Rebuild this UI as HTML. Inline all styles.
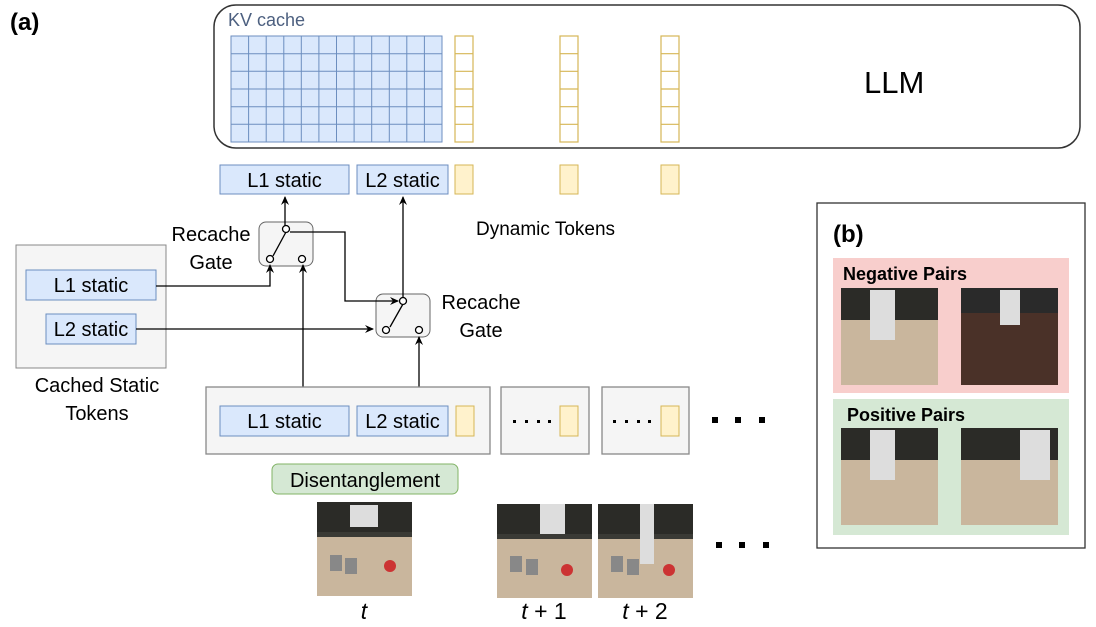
<!DOCTYPE html>
<html><head><meta charset="utf-8"><style>
html,body{margin:0;padding:0;background:#fff;}
svg{display:block;}
text{font-family:"Liberation Sans",sans-serif;}
</style></head><body>
<svg width="1096" height="627" viewBox="0 0 1096 627" xmlns="http://www.w3.org/2000/svg">
<defs>
<marker id="ar" markerWidth="10" markerHeight="10" refX="8" refY="5" orient="auto" markerUnits="userSpaceOnUse">
<path d="M0,1 L9,5 L0,9 L3,5 Z" fill="#000"/></marker>
<g id="photo">
<rect x="0" y="0" width="95" height="94" fill="#c9b69d"/>
<rect x="0" y="0" width="95" height="34" fill="#2b2b27"/>
<rect x="0" y="30" width="95" height="5" fill="#3a3a35"/>
</g>
</defs>
<text x="10" y="30" font-size="24" font-weight="bold">(a)</text>
<rect x="214" y="5" width="866" height="143" rx="22" fill="#fff" stroke="#333" stroke-width="1.5"/>
<text x="228" y="26" font-size="18" fill="#4d6080">KV cache</text>
<text x="864" y="93" font-size="31" fill="#000" font-family="DejaVu Sans, sans-serif">LLM</text>
<rect x="231" y="36" width="211" height="106" fill="#dae8fc" stroke="#6c8ebf"/>
<g stroke="#6c8ebf" stroke-width="1">
<path d="M248.6 36V142M266.2 36V142M283.8 36V142M301.3 36V142M318.9 36V142M336.5 36V142M354.1 36V142M371.7 36V142M389.3 36V142M406.8 36V142M424.4 36V142"/>
<path d="M231 53.7H442M231 71.3H442M231 89H442M231 106.7H442M231 124.3H442"/>
</g>
<g fill="none" stroke="#d6b656" stroke-width="1.2">
<rect x="455" y="36" width="18" height="106"/><path d="M455 53.7H473M455 71.3H473M455 89H473M455 106.7H473M455 124.3H473"/>
<rect x="560" y="36" width="18" height="106"/><path d="M560 53.7H578M560 71.3H578M560 89H578M560 106.7H578M560 124.3H578"/>
<rect x="661" y="36" width="18" height="106"/><path d="M661 53.7H679M661 71.3H679M661 89H679M661 106.7H679M661 124.3H679"/>
</g>
<rect x="220" y="165" width="129" height="29" fill="#dae8fc" stroke="#6c8ebf"/>
<text x="284.5" y="187" font-size="20" text-anchor="middle">L1 static</text>
<rect x="357" y="165" width="91" height="29" fill="#dae8fc" stroke="#6c8ebf"/>
<text x="402.5" y="187" font-size="20" text-anchor="middle">L2 static</text>
<g fill="#fff2cc" stroke="#d6b656">
<rect x="455" y="165" width="18" height="29"/><rect x="560" y="165" width="18" height="29"/><rect x="661" y="165" width="18" height="29"/>
</g>
<text x="476" y="235" font-size="19">Dynamic Tokens</text>
<rect x="16" y="245" width="150" height="123" fill="#f5f5f5" stroke="#888"/>
<rect x="26" y="270" width="130" height="30" fill="#dae8fc" stroke="#6c8ebf"/>
<text x="91" y="292" font-size="20" text-anchor="middle">L1 static</text>
<rect x="46" y="314" width="90" height="30" fill="#dae8fc" stroke="#6c8ebf"/>
<text x="91" y="336" font-size="20" text-anchor="middle">L2 static</text>
<text x="97" y="392" font-size="20" text-anchor="middle">Cached Static</text>
<text x="97" y="420" font-size="20" text-anchor="middle">Tokens</text>
<rect x="259" y="222" width="54" height="44" rx="7" fill="#f5f5f5" stroke="#666"/>
<rect x="376" y="294" width="54" height="43" rx="7" fill="#f5f5f5" stroke="#666"/>
<text x="211" y="241" font-size="20" text-anchor="middle">Recache</text>
<text x="211" y="269" font-size="20" text-anchor="middle">Gate</text>
<text x="481" y="309" font-size="20" text-anchor="middle">Recache</text>
<text x="481" y="337" font-size="20" text-anchor="middle">Gate</text>
<g stroke="#000" stroke-width="1.3" fill="none">
<path d="M285 226V197" marker-end="url(#ar)"/>
<path d="M403 297V197" marker-end="url(#ar)"/>
<path d="M156 286H270V265" marker-end="url(#ar)"/>
<path d="M136 329H373" marker-end="url(#ar)"/>
<path d="M290 232H345V301H398" marker-end="url(#ar)"/>
<path d="M303 387V265" marker-end="url(#ar)"/>
<path d="M419 387V337" marker-end="url(#ar)"/>
<path d="M273 256L286 232M390 327L403 304"/>
</g>
<g fill="#fff" stroke="#000" stroke-width="1.3">
<circle cx="286" cy="229" r="3.5"/><circle cx="270" cy="259" r="3.5"/><circle cx="302" cy="259" r="3.5"/>
<circle cx="403" cy="301" r="3.5"/><circle cx="386" cy="330" r="3.5"/><circle cx="419" cy="330" r="3.5"/>
</g>
<rect x="206" y="387" width="284" height="67" fill="#f5f5f5" stroke="#888" stroke-width="1.3"/>
<rect x="220" y="406" width="129" height="30" fill="#dae8fc" stroke="#6c8ebf"/>
<text x="284.5" y="428" font-size="20" text-anchor="middle">L1 static</text>
<rect x="357" y="406" width="91" height="30" fill="#dae8fc" stroke="#6c8ebf"/>
<text x="402.5" y="428" font-size="20" text-anchor="middle">L2 static</text>
<rect x="456" y="406" width="18" height="30" fill="#fff2cc" stroke="#d6b656"/>
<rect x="501" y="387" width="88" height="67" fill="#f5f5f5" stroke="#888" stroke-width="1.3"/>
<rect x="602" y="387" width="87" height="67" fill="#f5f5f5" stroke="#888" stroke-width="1.3"/>
<rect x="560" y="406" width="18" height="30" fill="#fff2cc" stroke="#d6b656"/>
<rect x="661" y="406" width="18" height="30" fill="#fff2cc" stroke="#d6b656"/>
<g fill="#000">
<rect x="513" y="420" width="3" height="3"/><rect x="525" y="420" width="3" height="3"/><rect x="537" y="420" width="3" height="3"/><rect x="548" y="420" width="3" height="3"/>
<rect x="613" y="420" width="3" height="3"/><rect x="625" y="420" width="3" height="3"/><rect x="637" y="420" width="3" height="3"/><rect x="648" y="420" width="3" height="3"/>
<rect x="712" y="417" width="6" height="6"/><rect x="735" y="417" width="6" height="6"/><rect x="759" y="417" width="6" height="6"/>
<rect x="716" y="542" width="6" height="6"/><rect x="739" y="542" width="6" height="6"/><rect x="763" y="542" width="6" height="6"/>
</g>
<rect x="272" y="464" width="186" height="30" rx="6" fill="#d5e8d4" stroke="#82b366"/>
<text x="365" y="487" font-size="20" text-anchor="middle">Disentanglement</text>
<use href="#photo" x="317" y="502"/>
<use href="#photo" x="497" y="504"/>
<use href="#photo" x="598" y="504"/>
<g fill="#ddd"><rect x="350" y="505" width="28" height="22"/><rect x="540" y="504" width="25" height="30"/><rect x="640" y="504" width="14" height="60"/></g>
<g fill="#888"><rect x="330" y="555" width="12" height="16"/><rect x="345" y="558" width="12" height="16"/><rect x="510" y="556" width="12" height="16"/><rect x="526" y="559" width="12" height="16"/><rect x="611" y="556" width="12" height="16"/><rect x="627" y="559" width="12" height="16"/></g>
<g fill="#c33"><circle cx="390" cy="566" r="6"/><circle cx="567" cy="570" r="6"/><circle cx="669" cy="570" r="6"/></g>
<g font-family="Liberation Serif, serif" font-size="23" text-anchor="middle">
<text x="364" y="619" font-style="italic">t</text>
<text x="544" y="619"><tspan font-style="italic">t</tspan> + 1</text>
<text x="645" y="619"><tspan font-style="italic">t</tspan> + 2</text>
</g>
<rect x="817" y="203" width="268" height="345" fill="#fff" stroke="#333" stroke-width="1.3"/>
<text x="833" y="242" font-size="24" font-weight="bold">(b)</text>
<rect x="833" y="258" width="236" height="135" fill="#f8cecc"/>
<text x="843" y="280" font-size="18" font-weight="bold">Negative Pairs</text>
<rect x="833" y="399" width="236" height="136" fill="#d5e8d4"/>
<text x="847" y="421" font-size="18" font-weight="bold">Positive Pairs</text>
<g>
<rect x="841" y="288" width="97" height="97" fill="#c9b69d"/><rect x="841" y="288" width="97" height="32" fill="#2b2b27"/>
<rect x="961" y="288" width="97" height="97" fill="#4a3128"/><rect x="961" y="288" width="97" height="25" fill="#2a2a2a"/>
<rect x="841" y="428" width="97" height="97" fill="#c9b69d"/><rect x="841" y="428" width="97" height="32" fill="#2b2b27"/>
<rect x="961" y="428" width="97" height="97" fill="#c9b69d"/><rect x="961" y="428" width="97" height="32" fill="#2b2b27"/>
<rect x="870" y="290" width="25" height="50" fill="#ddd"/><rect x="1000" y="290" width="20" height="35" fill="#ddd"/>
<rect x="870" y="430" width="25" height="50" fill="#ddd"/><rect x="1020" y="430" width="30" height="50" fill="#ddd"/>
</g>
</svg>
</body></html>
